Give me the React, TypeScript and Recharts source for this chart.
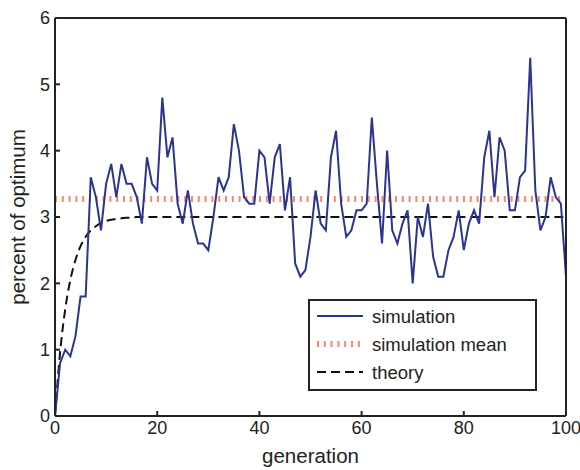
import React from 'react';
import { LineChart, Line, XAxis, YAxis, ReferenceLine, Label } from 'recharts';

const generations: number[] = [
  0, 1, 2, 3, 4, 5, 6, 7, 8, 9, 10, 11, 12, 13, 14, 15, 16, 17, 18, 19, 20,
  21, 22, 23, 24, 25, 26, 27, 28, 29, 30, 31, 32, 33, 34, 35, 36, 37, 38, 39, 40,
  41, 42, 43, 44, 45, 46, 47, 48, 49, 50, 51, 52, 53, 54, 55, 56, 57, 58, 59, 60,
  61, 62, 63, 64, 65, 66, 67, 68, 69, 70, 71, 72, 73, 74, 75, 76, 77, 78, 79, 80,
  81, 82, 83, 84, 85, 86, 87, 88, 89, 90, 91, 92, 93, 94, 95, 96, 97, 98, 99, 100,
];

const simulation: number[] = [
  0.0, 0.8, 1.0, 0.9, 1.2, 1.8, 1.8, 3.6, 3.3, 2.8, 3.5,
  3.8, 3.3, 3.8, 3.5, 3.5, 3.3, 2.9, 3.9, 3.5, 3.4,
  4.8, 3.9, 4.2, 3.2, 2.9, 3.4, 2.9, 2.6, 2.6, 2.5,
  3.0, 3.6, 3.4, 3.6, 4.4, 4.0, 3.3, 3.2, 3.2, 4.0,
  3.9, 3.2, 3.9, 4.1, 3.1, 3.6, 2.3, 2.1, 2.2, 2.7,
  3.4, 2.9, 2.8, 3.9, 4.3, 3.2, 2.7, 2.8, 3.1, 3.1,
  3.2, 4.5, 3.5, 2.6, 4.0, 2.8, 2.6, 2.9, 3.1, 2.0,
  3.0, 2.7, 3.2, 2.4, 2.1, 2.1, 2.5, 2.7, 3.1, 2.5,
  2.9, 3.1, 2.9, 3.9, 4.3, 3.3, 4.2, 4.0, 3.1, 3.1,
  3.6, 3.7, 5.4, 3.4, 2.8, 3.0, 3.6, 3.3, 3.2, 2.1,
];

const theory: number[] = [
  0.0, 0.96, 1.61, 2.05, 2.35, 2.56, 2.7, 2.8, 2.86, 2.91, 2.94,
  2.96, 2.97, 2.98, 2.99, 2.99, 3.0, 3.0, 3.0, 3.0, 3.0,
  3.0, 3.0, 3.0, 3.0, 3.0, 3.0, 3.0, 3.0, 3.0, 3.0,
  3.0, 3.0, 3.0, 3.0, 3.0, 3.0, 3.0, 3.0, 3.0, 3.0,
  3.0, 3.0, 3.0, 3.0, 3.0, 3.0, 3.0, 3.0, 3.0, 3.0,
  3.0, 3.0, 3.0, 3.0, 3.0, 3.0, 3.0, 3.0, 3.0, 3.0,
  3.0, 3.0, 3.0, 3.0, 3.0, 3.0, 3.0, 3.0, 3.0, 3.0,
  3.0, 3.0, 3.0, 3.0, 3.0, 3.0, 3.0, 3.0, 3.0, 3.0,
  3.0, 3.0, 3.0, 3.0, 3.0, 3.0, 3.0, 3.0, 3.0, 3.0,
  3.0, 3.0, 3.0, 3.0, 3.0, 3.0, 3.0, 3.0, 3.0, 3.0,
];

const simulationMean = 3.27;

const xTicks: number[] = [0, 20, 40, 60, 80, 100];
const yTicks: number[] = [0, 1, 2, 3, 4, 5, 6];

const legendLabels: string[] = ['simulation', 'simulation mean', 'theory'];

const data = generations.map((g, i) => ({ g, sim: simulation[i], theory: theory[i] }));

const FONT = '"Liberation Sans", Arial, Helvetica, sans-serif';
const INK = '#222';
const BLUE = '#2b3591';
const SALMON = '#f5886e';

const LegendBox = () => (
  <svg width={230} height={93} style={{ display: 'block' }}>
    <rect x={1} y={1} width={227} height={90} fill="#fff" stroke={INK} strokeWidth={2} />
    <line x1={9} x2={55} y1={17} y2={17} stroke={BLUE} strokeWidth={2} />
    <line x1={9} x2={55} y1={45} y2={45} stroke={SALMON} strokeWidth={6} strokeDasharray="2 4.8" />
    <line x1={9} x2={55} y1={73} y2={73} stroke="#111" strokeWidth={2} strokeDasharray="9 5" />
    {legendLabels.map((t, i) => (
      <text key={t} x={64} y={17 + i * 28} dominantBaseline="central" fontFamily={FONT} fontSize={18.5} fill={INK}>
        {t}
      </text>
    ))}
  </svg>
);

export default function App() {
  const tickStyle = { fontFamily: FONT, fontSize: 18, fill: INK };
  return (
    <div style={{ position: 'absolute', left: 0, top: 0, width: 580, height: 470, background: '#fff' }}>
      <LineChart width={580} height={470} data={data} margin={{ top: 17, right: 13, left: 0, bottom: 0 }}>
        <XAxis
          dataKey="g"
          type="number"
          domain={[0, 100]}
          ticks={xTicks}
          height={54}
          tickSize={-5}
          tickMargin={10}
          tick={tickStyle}
          stroke={INK}
          strokeWidth={2}
          interval={0}
        >
          <Label value="generation" position="insideBottom" offset={7} style={{ fontFamily: FONT, fontSize: 20.5, fill: INK }} />
        </XAxis>
        <XAxis
          xAxisId="top"
          orientation="top"
          dataKey="g"
          type="number"
          domain={[0, 100]}
          ticks={xTicks}
          height={1}
          tickSize={-5}
          tick={false}
          stroke={INK}
          strokeWidth={2}
          interval={0}
        />
        <YAxis
          type="number"
          domain={[0, 6]}
          ticks={yTicks}
          width={55}
          tickSize={-5}
          tickMargin={10}
          tick={tickStyle}
          stroke={INK}
          strokeWidth={2}
          interval={0}
        >
          <Label
            value="percent of optimum"
            angle={-90}
            position="insideLeft"
            offset={18}
            style={{ fontFamily: FONT, fontSize: 20.5, fill: INK, textAnchor: 'middle' }}
          />
        </YAxis>
        <YAxis
          yAxisId="right"
          orientation="right"
          type="number"
          domain={[0, 6]}
          ticks={yTicks}
          width={1}
          tickSize={-5}
          tick={false}
          stroke={INK}
          strokeWidth={2}
          interval={0}
        />
        <ReferenceLine
          y={simulationMean}
          stroke={SALMON}
          strokeWidth={6}
          strokeDasharray="2 4.8"
          ifOverflow="visible"
        />
        <Line
          xAxisId="top"
          yAxisId="right"
          dataKey="theory"
          type="monotone"
          stroke="#111"
          strokeWidth={2}
          strokeDasharray="9 5"
          dot={false}
          activeDot={false}
          isAnimationActive={false}
        />
        <Line
          dataKey="sim"
          type="linear"
          stroke={BLUE}
          strokeWidth={2}
          dot={false}
          activeDot={false}
          isAnimationActive={false}
        />
      </LineChart>
      <div style={{ position: 'absolute', left: 308, top: 299 }}>
        <LegendBox />
      </div>
    </div>
  );
}
